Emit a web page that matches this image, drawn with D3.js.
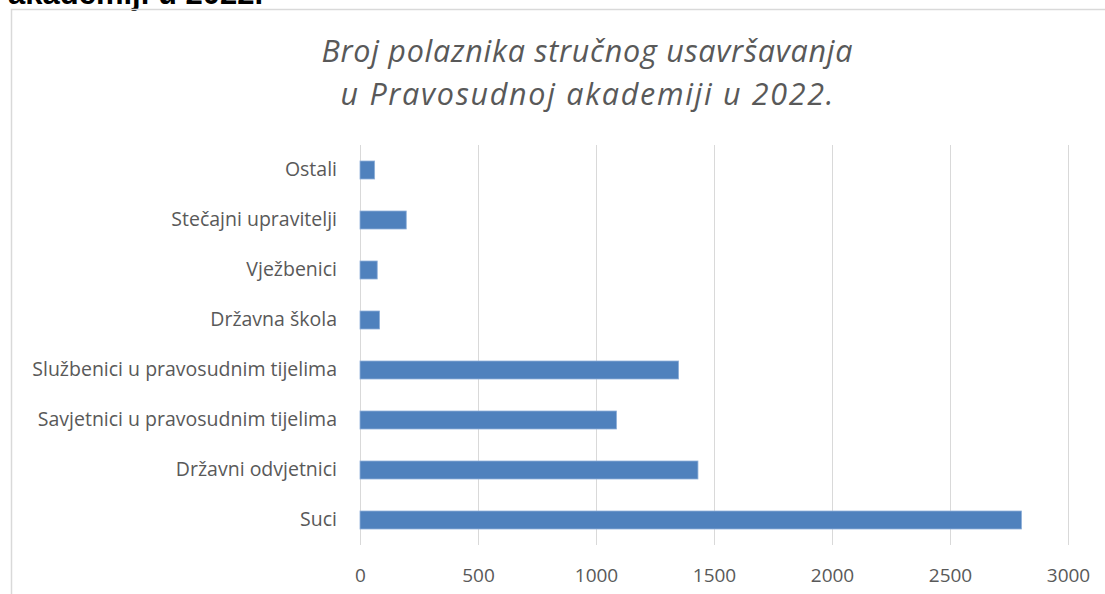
<!DOCTYPE html>
<html>
<head>
<meta charset="utf-8">
<script src="https://cdn.jsdelivr.net/npm/d3@7"></script>
<style>
  body { margin: 0; background: #fff; }
  svg { display: block; }
</style>
</head>
<body>
<div id="chart"></div>
<script>
var svgwidth = 1105;
var svgheight = 594;

// data
var categories = ["Ostali", "Stečajni upravitelji", "Vježbenici", "Državna škola",
  "Službenici u pravosudnim tijelima", "Savjetnici u pravosudnim tijelima",
  "Državni odvjetnici", "Suci"];
var values = [62, 196, 73, 83, 1350, 1087, 1432, 2803];
var tickValues = [0, 500, 1000, 1500, 2000, 2500, 3000];
var titleLines = ["Broj polaznika stručnog usavršavanja", "u Pravosudnoj akademiji u 2022."];
var titleWidths = [531, 493];

var margin = { left: 360, right: 37, top: 145, bottom: 49 };
var inner_width = svgwidth - margin.left - margin.right; // 708
var inner_height = svgheight - margin.top - margin.bottom; // 400

var svg = d3
  .select("#chart")
  .append("svg")
  .attr("width", svgwidth)
  .attr("height", svgheight);

// heading above the chart box (cut off at the top in the original)
svg
  .append("text")
  .attr("x", 8)
  .attr("y", 4)
  .style("font-family", "Liberation Sans, Arial, sans-serif")
  .style("font-weight", "700")
  .style("font-size", "31px")
  .style("fill", "#000")
  .text("akademiji u 2022.");

// chart border
svg
  .append("rect")
  .attr("x", 11.5)
  .attr("y", 9.5)
  .attr("width", 1110)
  .attr("height", 600)
  .style("fill", "none")
  .style("stroke", "#d9d9d9")
  .style("stroke-width", 1.5);

// title
svg
  .append("text")
  .attr("text-anchor", "middle")
  .style("font-family", "Open Sans, sans-serif")
  .style("font-style", "italic")
  .style("font-weight", "400")
  .style("font-size", "30.5px")
  .style("fill", "#595959")
  .selectAll("tspan")
  .data(titleLines)
  .join("tspan")
  .attr("x", 587)
  .attr("y", (d, i) => 62 + i * 43)
  .attr("textLength", (d, i) => titleWidths[i])
  .attr("lengthAdjust", "spacing")
  .text((d) => d);

var g = svg
  .append("g")
  .attr("transform", "translate(" + margin.left + "," + margin.top + ")");

var xscale = d3.scaleLinear().domain([0, 3000]).range([0, inner_width]);

var yscale = d3
  .scaleBand()
  .domain(categories)
  .range([0, inner_height])
  .paddingInner(0.64)
  .paddingOuter(0.32);

// gridlines
g.append("g")
  .selectAll("line")
  .data(tickValues)
  .join("line")
  .attr("x1", (d) => Math.round(xscale(d)) + 0.5)
  .attr("x2", (d) => Math.round(xscale(d)) + 0.5)
  .attr("y1", 0)
  .attr("y2", inner_height)
  .style("stroke", "#d9d9d9")
  .style("stroke-width", 1);

// x axis labels
var xaxis = d3
  .axisBottom(xscale)
  .tickValues(tickValues)
  .tickFormat(d3.format("d"))
  .tickSize(0)
  .tickPadding(24);
var xg = g.append("g").attr("transform", "translate(0," + inner_height + ")").call(xaxis);
xg.select(".domain").remove();
xg.selectAll("text")
  .style("font-family", "Open Sans, sans-serif")
  .style("font-size", "19px")
  .style("fill", "#595959");

// y axis labels
var yaxis = d3.axisLeft(yscale).tickSize(0).tickPadding(23);
var yg = g.append("g").call(yaxis);
yg.select(".domain").remove();
yg.selectAll("text")
  .style("font-family", "Open Sans, sans-serif")
  .style("font-size", "19.5px")
  .style("fill", "#595959");

// bars
g.append("g")
  .selectAll("rect")
  .data(values)
  .join("rect")
  .attr("x", xscale(0))
  .attr("y", (d, i) => yscale(categories[i]))
  .attr("width", (d) => xscale(d))
  .attr("height", yscale.bandwidth())
  .style("fill", "#4f81bd")
  .style("stroke", "#8fb0d9")
  .style("stroke-width", 0.8);
</script>
</body>
</html>
